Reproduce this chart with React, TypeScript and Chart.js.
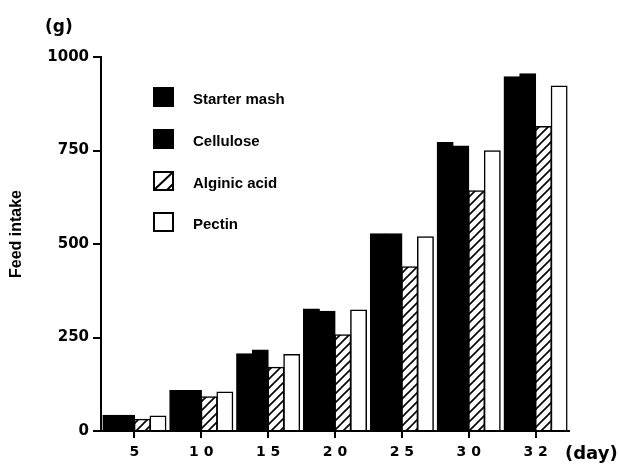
import React, { useEffect, useRef } from "react";
import { Chart, registerables } from "chart.js";

Chart.register(...registerables);

const days = ["5", "1 0", "1 5", "2 0", "2 5", "3 0", "3 2"];
const starterMash = [42, 108, 206, 326, 527, 771, 947];
const cellulose = [42, 108, 216, 320, 527, 762, 955];
const alginicAcid = [31, 91, 170, 257, 439, 642, 814];
const pectin = [40, 104, 204, 323, 519, 749, 922];
const seriesNames = ["Starter mash", "Cellulose", "Alginic acid", "Pectin"];
const yTickValues = [0, 250, 500, 750, 1000];
const yUnit = "(g)";
const xUnit = "(day)";
const yTitle = "Feed intake";

const FONT = "'Liberation Sans', Arial, Helvetica, sans-serif";
const WIDE = "'DejaVu Sans', Verdana, sans-serif";

function makeHatch(): CanvasPattern | string {
  const c = document.createElement("canvas");
  c.width = 9;
  c.height = 9;
  const g = c.getContext("2d");
  if (!g) return "#fff";
  g.fillStyle = "#fff";
  g.fillRect(0, 0, 9, 9);
  g.strokeStyle = "#000";
  g.lineWidth = 1.6;
  g.beginPath();
  g.moveTo(-1, 10);
  g.lineTo(10, -1);
  g.moveTo(-1, 1);
  g.lineTo(1, -1);
  g.moveTo(8, 10);
  g.lineTo(10, 8);
  g.stroke();
  const p = g.createPattern(c, "repeat");
  return p || "#fff";
}

const annotate = {
  id: "annotate",
  afterDraw(chart: any) {
    const ctx = chart.ctx as CanvasRenderingContext2D;
    ctx.save();
    ctx.fillStyle = "#000";
    ctx.textBaseline = "middle";
    ctx.textAlign = "left";
    ctx.font = `bold 17px ${WIDE}`;
    ctx.fillText(yUnit, 45, 28);
    ctx.font = `bold 18px ${WIDE}`;
    ctx.fillText(xUnit, 565, 454);
    // y title
    ctx.save();
    ctx.translate(17, 234);
    ctx.rotate(-Math.PI / 2);
    ctx.textAlign = "center";
    ctx.font = `bold 16px ${FONT}`;
    ctx.fillText(yTitle, 0, 0);
    ctx.restore();
    // legend
    const rows = [97, 139, 181, 222];
    chart.data.datasets.forEach((ds: any, i: number) => {
      const cy = rows[i];
      const x = 154, w = 19, h = 18;
      const y = cy - h / 2;
      ctx.fillStyle = ds.hatched ? "#fff" : ds.backgroundColor;
      ctx.fillRect(x, y, w, h);
      ctx.strokeStyle = "#000";
      ctx.lineWidth = 2;
      ctx.strokeRect(x, y, w, h);
      if (ds.hatched) {
        ctx.beginPath();
        ctx.moveTo(x, y + h);
        ctx.lineTo(x + w, y);
        ctx.moveTo(x + w - 6, y + h);
        ctx.lineTo(x + w, y + h - 6);
        ctx.stroke();
      }
      ctx.fillStyle = "#000";
      ctx.font = `bold 15px ${FONT}`;
      ctx.textAlign = "left";
      ctx.textBaseline = "middle";
      ctx.fillText(ds.label, 193, cy + 3);
    });
    ctx.restore();
  },
};

export default function App() {
  const ref = useRef<HTMLCanvasElement | null>(null);
  useEffect(() => {
    document.body.style.margin = "0";
    const canvas = ref.current;
    if (!canvas) return;
    const hatch = makeHatch();
    const common = {
      borderColor: "#000",
      borderWidth: 1.5,
      categoryPercentage: 0.94,
      barPercentage: 1.0,
      inflateAmount: 0.6,
    };
    const chart = new Chart(canvas, {
      type: "bar",
      data: {
        labels: days,
        datasets: [
          { label: seriesNames[0], data: starterMash, backgroundColor: "#000", ...common },
          { label: seriesNames[1], data: cellulose, backgroundColor: "#000", ...common },
          { label: seriesNames[2], data: alginicAcid, backgroundColor: hatch as any, hatched: true, ...common } as any,
          { label: seriesNames[3], data: pectin, backgroundColor: "#fff", ...common },
        ],
      },
      options: {
        animation: false,
        responsive: false,
        devicePixelRatio: 1,
        layout: { padding: { left: 0, right: 50, top: 57, bottom: 0 } },
        plugins: {
          legend: { display: false },
          tooltip: { enabled: false },
          title: { display: false },
        },
        scales: {
          x: {
            offset: true,
            grid: {
              offset: false,
              drawOnChartArea: false,
              drawTicks: true,
              tickLength: 7,
              color: "#000",
              lineWidth: 2,
            },
            border: { display: true, color: "#000", width: 2 },
            ticks: {
              color: "#000",
              font: { family: WIDE, size: 14, weight: "bold" },
              padding: 6,
              maxRotation: 0,
              autoSkip: false,
            },
            afterFit(scale: any) {
              scale.height = 35;
            },
          },
          y: {
            min: 0,
            max: 1000,
            afterBuildTicks(scale: any) {
              scale.ticks = yTickValues.map((v) => ({ value: v }));
            },
            grid: {
              drawOnChartArea: false,
              drawTicks: true,
              tickLength: 8,
              color: "#000",
              lineWidth: 2,
            },
            border: { display: true, color: "#000", width: 2 },
            ticks: {
              color: "#000",
              font: { family: WIDE, size: 15, weight: "bold" },
              padding: 4,
              callback: (v: any) => String(v),
            },
            afterFit(scale: any) {
              scale.width = 101;
            },
          },
        },
      },
      plugins: [annotate],
    } as any);
    return () => chart.destroy();
  }, []);
  return (
    <div style={{ position: "absolute", left: 0, top: 0, width: 619, height: 466, background: "#fff" }}>
      <canvas ref={ref} width={619} height={466} style={{ width: 619, height: 466, display: "block" }} />
    </div>
  );
}
